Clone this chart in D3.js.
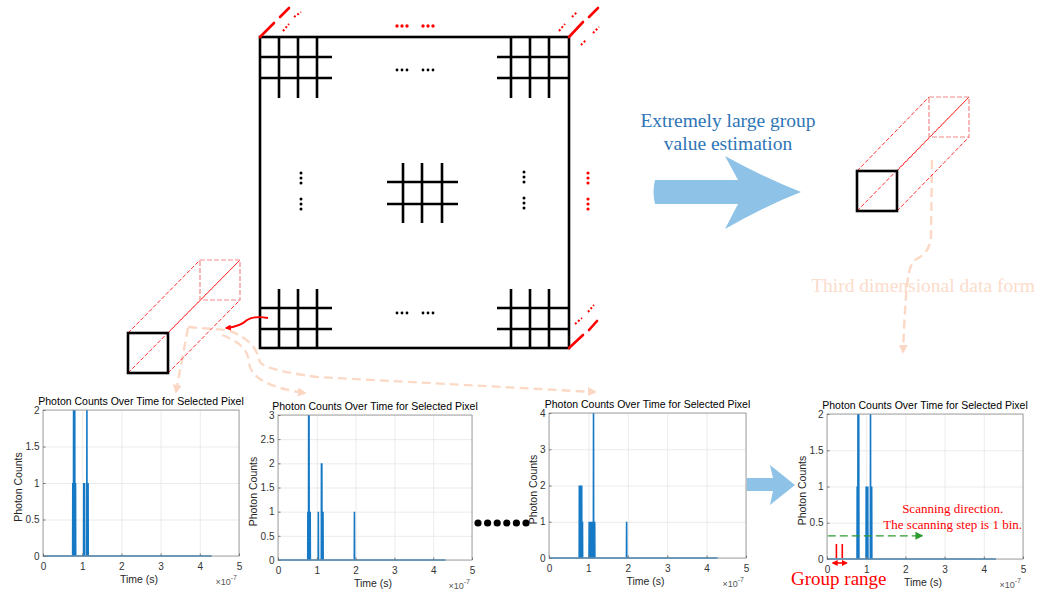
<!DOCTYPE html>
<html>
<head>
<meta charset="utf-8">
<script src="https://cdn.jsdelivr.net/npm/d3@7"></script>
<style>
  html, body { margin: 0; padding: 0; background: #fff; }
  svg { display: block; }
</style>
</head>
<body>
<svg id="fig" width="1048" height="591"></svg>
<script>
// ---- photon histogram data (time in units of 1e-7 s, counts per bin) ----
const timeTicks = [0, 1, 2, 3, 4, 5];

const countTicks1 = [0, 0.5, 1, 1.5, 2];
const spikeTimes1 = [0.76, 0.78, 0.79, 0.81, 0.83, 1.04, 1.06, 1.12, 1.15];
const spikeCounts1 = [1, 2, 1, 2, 1, 1, 1, 2, 1];

const countTicks2 = [0, 0.5, 1, 1.5, 2, 2.5, 3];
const spikeTimes2 = [0.77, 0.79, 0.80, 0.83, 1.04, 1.12, 1.13, 1.16, 1.97];
const spikeCounts2 = [1, 3, 3, 1, 1, 2, 2, 1, 1];

const countTicks3 = [0, 1, 2, 3, 4];
const spikeTimes3 = [0.77, 0.79, 0.81, 0.83, 0.85, 1.02, 1.04, 1.06, 1.08, 1.10, 1.13, 1.16, 1.97];
const spikeCounts3 = [2, 2, 2, 2, 1, 1, 1, 1, 1, 1, 4, 1, 1];

const countTicks4 = [0, 0.5, 1, 1.5, 2];
const spikeTimes4 = [0.77, 0.79, 0.81, 1.00, 1.04, 1.11, 1.14];
const spikeCounts4 = [1, 2, 2, 1, 1, 2, 1];

const recordEnds = [4.30, 4.32, 4.28, 4.31];

// group window and scan arrow on the last panel (time units / counts)
const groupEdges = [0.24, 0.39];
const groupSpan = [0.15, 0.50];
const scanStart = 0.02, scanEnd = 2.42, scanLevel = 0.32;

const chartTitle = "Photon Counts Over Time for Selected Pixel";
const xLabel = "Time (s)";
const yLabel = "Photon Counts";

const svg = d3.select("#fig");
const defs = svg.append("defs");

function arrowMarker(id, color, size) {
  defs.append("marker")
    .attr("id", id)
    .attr("viewBox", "0 0 10 10")
    .attr("refX", 8).attr("refY", 5)
    .attr("markerWidth", size).attr("markerHeight", size)
    .attr("markerUnits", "userSpaceOnUse")
    .attr("orient", "auto-start-reverse")
    .append("path").attr("d", "M0,0 L10,5 L0,10 Z").attr("fill", color);
}
arrowMarker("arPeach", "#fbd6c2", 9);
arrowMarker("arGreen", "#2f9a2f", 8);
arrowMarker("arRedSmall", "#ff0000", 6);

const SERIF = "'Liberation Serif', 'Times New Roman', serif";
const SANS = "'Liberation Sans', Arial, sans-serif";

// ---------------- faded connector paths (drawn first, underneath) ----------------
const peach = svg.append("g").attr("fill", "none").attr("stroke", "#fbd9c6")
  .attr("stroke-width", 2.4).attr("stroke-dasharray", "9,5");
peach.append("path").attr("d", "M188,327 L227,330 C240,334 252,342 257,353 L260,362 C263,367 280,372 317,377 L595,392")
  .attr("marker-end", "url(#arPeach)");
peach.append("path").attr("d", "M222,335 C240,342 248,350 249,362 C250,378 270,388 305,393")
  .attr("marker-end", "url(#arPeach)");
peach.append("path").attr("d", "M188,328 L176,392").attr("marker-end", "url(#arPeach)");
peach.append("path").attr("d", "M932,160 L931,237 C930,248 926,254 915,260 C908,266 906,280 903,352")
  .attr("marker-end", "url(#arPeach)");

// ---------------- pixel array board ----------------
const board = svg.append("g").attr("stroke", "#000").attr("stroke-width", 2.6).attr("fill", "none");
board.append("rect").attr("x", 260).attr("y", 37).attr("width", 309).attr("height", 311);

function smallGrid(xs, y0, y1, ys, x0, x1) {
  xs.forEach(x => board.append("line").attr("x1", x).attr("x2", x).attr("y1", y0).attr("y2", y1));
  ys.forEach(y => board.append("line").attr("x1", x0).attr("x2", x1).attr("y1", y).attr("y2", y));
}
smallGrid([279, 298, 317], 37, 98, [57, 78], 260, 332);
smallGrid([511, 530, 549], 37, 98, [57, 78], 497, 569);
smallGrid([279, 298, 317], 289, 348, [308, 329], 260, 332);
smallGrid([511, 530, 549], 289, 348, [308, 329], 497, 569);
smallGrid([403, 422, 442], 163, 223, [182, 204], 387, 458);

// ellipsis dots
function dotRow(x0, y, color, r) {
  [0, 1, 2].forEach(i => svg.append("circle").attr("cx", x0 + i * 5).attr("cy", y).attr("r", r).attr("fill", color));
}
function dotCol(x, y0, color, r) {
  [0, 1, 2].forEach(i => svg.append("circle").attr("cx", x).attr("cy", y0 + i * 5).attr("r", r).attr("fill", color));
}
[[397, 70], [423, 70], [397, 313], [423, 313]].forEach(p => dotRow(p[0], p[1], "#000", 1.4));
[[397, 26], [423, 26]].forEach(p => dotRow(p[0], p[1], "#ff0000", 1.7));
[[301, 173], [301, 199], [524, 172], [524, 198]].forEach(p => dotCol(p[0], p[1], "#000", 1.5));
[[588, 173], [588, 199]].forEach(p => dotCol(p[0], p[1], "#ff0000", 1.6));

// depth strokes at the board corners
const depthSolid = [
  [260, 37, 274, 23], [280, 17, 289, 8],
  [569, 37, 583, 22], [589, 17, 598, 8],
  [569, 348, 583, 335], [589, 330, 597, 321]
];
const depthDotted = [
  [283, 31, 289, 24], [294, 17, 301, 12],
  [559, 31, 565, 24], [572, 17, 577, 12], [581, 45, 586, 40], [593, 33, 599, 27],
  [575, 324, 582, 318], [588, 312, 594, 305]
];
depthSolid.forEach(s => svg.append("line").attr("x1", s[0]).attr("y1", s[1]).attr("x2", s[2]).attr("y2", s[3])
  .attr("stroke", "#ff0000").attr("stroke-width", 2.6).attr("stroke-linecap", "round"));
depthDotted.forEach(s => svg.append("line").attr("x1", s[0]).attr("y1", s[1]).attr("x2", s[2]).attr("y2", s[3])
  .attr("stroke", "#ff0000").attr("stroke-width", 2).attr("stroke-dasharray", "2,2"));

// small red pointer from the board to the single-pixel column
svg.append("path").attr("d", "M268,318 C258,316 252,317 247,320 C242,325 236,327 226,328")
  .attr("fill", "none").attr("stroke", "#ff0000").attr("stroke-width", 1.8)
  .attr("marker-end", "url(#arRedSmall)");

// ---------------- pixel column (cuboid) ----------------
function cuboid(fx, fy, s, dx, dy) {
  const g = svg.append("g").attr("fill", "none");
  const edge = (x1, y1, x2, y2) => g.append("line").attr("x1", x1).attr("y1", y1).attr("x2", x2).attr("y2", y2)
    .attr("stroke", "#ff2a2a").attr("stroke-width", 1).attr("stroke-dasharray", "4,2");
  edge(fx, fy, fx + dx, fy + dy);
  edge(fx + s, fy, fx + s + dx, fy + dy);
  edge(fx + s, fy + s, fx + s + dx, fy + s + dy);
  edge(fx, fy + s, fx + s + dx, fy + dy);
  g.append("rect").attr("x", fx + dx).attr("y", fy + dy).attr("width", s).attr("height", s)
    .attr("stroke", "#f48a8a").attr("stroke-width", 1.2).attr("stroke-dasharray", "5,2");
  g.append("rect").attr("x", fx).attr("y", fy).attr("width", s).attr("height", s)
    .attr("stroke", "#000").attr("stroke-width", 2.6);
}
cuboid(128, 333, 40, 72, -73);
cuboid(857, 171, 40, 72, -74);

// ---------------- estimation arrow and captions ----------------
svg.append("path")
  .attr("d", "M655,180 L738,180 L725,156 Q765,178 801,192 Q765,206 725,229 L738,204 L655,204 Q652,192 655,180 Z")
  .attr("fill", "#8ec3e7");
svg.append("text").attr("x", 728).attr("y", 127).attr("text-anchor", "middle")
  .attr("font-family", SERIF).attr("font-size", 19.5).attr("fill", "#2e75b6").text("Extremely large group");
svg.append("text").attr("x", 728).attr("y", 150).attr("text-anchor", "middle")
  .attr("font-family", SERIF).attr("font-size", 19.5).attr("fill", "#2e75b6").text("value estimation");
svg.append("text").attr("x", 923).attr("y", 292).attr("text-anchor", "middle")
  .attr("font-family", SERIF).attr("font-size", 19.5).attr("fill", "#fcdccb").text("Third dimensional data form");

// ellipsis between panels and arrow to the last panel
d3.range(6).forEach(i => svg.append("circle").attr("cx", 478 + i * 9.6).attr("cy", 523).attr("r", 3.6).attr("fill", "#000"));
svg.append("path").attr("d", "M746,478 L773,478 L770,465 L795,485 L770,505 L773,491 L746,491 Z").attr("fill", "#8ec3e7");

// ---------------- histogram panels ----------------
const frames = [
  { x: 43, y: 410, w: 196, h: 146 },
  { x: 278, y: 415, w: 194, h: 145 },
  { x: 549, y: 413, w: 197, h: 145 },
  { x: 827, y: 414, w: 196, h: 145 }
];
const spikeTimes = [spikeTimes1, spikeTimes2, spikeTimes3, spikeTimes4];
const spikeCounts = [spikeCounts1, spikeCounts2, spikeCounts3, spikeCounts4];
const countTicks = [countTicks1, countTicks2, countTicks3, countTicks4];

function drawPanel(i) {
  const f = frames[i];
  const g = svg.append("g");
  const x = d3.scaleLinear().domain([0, 5]).range([f.x, f.x + f.w]);
  const yMax = d3.max(countTicks[i]);
  const y = d3.scaleLinear().domain([0, yMax]).range([f.y + f.h, f.y]);

  g.append("rect").attr("x", f.x).attr("y", f.y).attr("width", f.w).attr("height", f.h).attr("fill", "#fff");

  // grid
  const gx = g.append("g").attr("transform", `translate(0,${f.y + f.h})`)
    .call(d3.axisBottom(x).tickValues(timeTicks).tickSize(-f.h).tickFormat(""));
  const gy = g.append("g").attr("transform", `translate(${f.x},0)`)
    .call(d3.axisLeft(y).tickValues(countTicks[i]).tickSize(-f.w).tickFormat(""));
  [gx, gy].forEach(a => {
    a.select(".domain").remove();
    a.selectAll(".tick line").attr("stroke", "#e6e6e6").attr("stroke-width", 0.8);
  });

  // trace: zero baseline with a narrow spike per occupied bin
  const pts = [[0, 0]];
  spikeTimes[i].forEach((t, k) => { pts.push([t - 0.004, 0], [t, spikeCounts[i][k]], [t + 0.004, 0]); });
  pts.push([recordEnds[i], 0]);
  g.append("path").datum(pts)
    .attr("d", d3.line().x(d => x(d[0])).y(d => y(d[1])))
    .attr("fill", "none").attr("stroke", "#1679c6").attr("stroke-width", 1.6);

  // box
  g.append("rect").attr("x", f.x).attr("y", f.y).attr("width", f.w).attr("height", f.h)
    .attr("fill", "none").attr("stroke", "#9a9a9a").attr("stroke-width", 0.9);

  // tick labels and short inner ticks
  const ax = g.append("g").attr("transform", `translate(0,${f.y + f.h})`)
    .call(d3.axisBottom(x).tickValues(timeTicks).tickSize(-2.5).tickPadding(4).tickFormat(d3.format("~g")));
  const ay = g.append("g").attr("transform", `translate(${f.x},0)`)
    .call(d3.axisLeft(y).tickValues(countTicks[i]).tickSize(-2.5).tickPadding(3.5).tickFormat(d3.format("~g")));
  [ax, ay].forEach(a => {
    a.select(".domain").remove();
    a.selectAll(".tick line").attr("stroke", "#777");
    a.selectAll(".tick text").attr("font-family", SANS).attr("font-size", 10).attr("fill", "#333");
  });
  ax.selectAll(".tick text").attr("dy", "0.95em");

  let maxW = 0;
  ay.selectAll(".tick text").each(function () { maxW = Math.max(maxW, this.getComputedTextLength()); });

  g.append("text").attr("x", f.x + f.w / 2).attr("y", f.y - 5).attr("text-anchor", "middle")
    .attr("font-family", SANS).attr("font-size", 10.5).attr("fill", "#000").text(chartTitle);
  g.append("text").attr("x", f.x + f.w / 2 - 2).attr("y", f.y + f.h + 27).attr("text-anchor", "middle")
    .attr("font-family", SANS).attr("font-size", 10.5).attr("fill", "#262626").text(xLabel);
  const ylx = f.x - 3.5 - maxW - 7;
  g.append("text").attr("transform", `translate(${ylx},${f.y + f.h / 2 + 4}) rotate(-90)`)
    .attr("text-anchor", "middle").attr("dy", "0.35em")
    .attr("font-family", SANS).attr("font-size", 10.5).attr("fill", "#262626").text(yLabel);
  const ex = g.append("text").attr("x", f.x + f.w - 2).attr("y", f.y + f.h + 29).attr("text-anchor", "end")
    .attr("font-family", SANS).attr("font-size", 9).attr("fill", "#555");
  ex.append("tspan").text("\u00d710");
  ex.append("tspan").attr("dy", -5).attr("font-size", 7).text("-7");

  return { x, y, f };
}

const panels = [0, 1, 2, 3].map(drawPanel);

// ---------------- scan annotations on the last panel ----------------
const p4 = panels[3];
svg.append("line")
  .attr("x1", p4.x(scanStart)).attr("x2", p4.x(scanEnd))
  .attr("y1", p4.y(scanLevel)).attr("y2", p4.y(scanLevel))
  .attr("stroke", "#2f9a2f").attr("stroke-width", 1.2).attr("stroke-dasharray", "8,4")
  .attr("marker-end", "url(#arGreen)");
groupEdges.forEach(t => svg.append("line")
  .attr("x1", p4.x(t)).attr("x2", p4.x(t)).attr("y1", p4.y(0) - 15).attr("y2", p4.y(0) - 1)
  .attr("stroke", "#ff0000").attr("stroke-width", 1.6));
svg.append("line")
  .attr("x1", p4.x(groupSpan[0])).attr("x2", p4.x(groupSpan[1]))
  .attr("y1", p4.y(0) + 4).attr("y2", p4.y(0) + 4)
  .attr("stroke", "#ff0000").attr("stroke-width", 1.6)
  .attr("marker-start", "url(#arRedSmall)").attr("marker-end", "url(#arRedSmall)");
svg.append("text").attr("x", 952.7).attr("y", 513).attr("text-anchor", "middle")
  .attr("font-family", SERIF).attr("font-size", 13).attr("fill", "#ff0000").text("Scanning direction.");
svg.append("text").attr("x", 952.7).attr("y", 529).attr("text-anchor", "middle")
  .attr("font-family", SERIF).attr("font-size", 13).attr("fill", "#ff0000").text("The scanning step is 1 bin.");
svg.append("text").attr("x", 791).attr("y", 585)
  .attr("font-family", SERIF).attr("font-size", 19).attr("fill", "#ff0000").text("Group range");
</script>
</body>
</html>
